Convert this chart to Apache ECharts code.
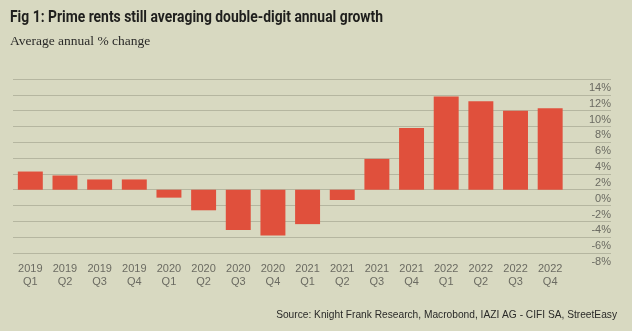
<!DOCTYPE html>
<html><head><meta charset="utf-8">
<script src="https://cdn.jsdelivr.net/npm/echarts@6/dist/echarts.min.js"></script>
<style>html,body{margin:0;padding:0;background:#d8d9c1}#c{width:632px;height:331px}</style>
</head><body><div id="c"></div>
<script>
const years = ['2019','2019','2019','2019','2020','2020','2020','2020','2021','2021','2021','2021','2022','2022','2022','2022'];
const quarters = ['Q1','Q2','Q3','Q4','Q1','Q2','Q3','Q4','Q1','Q2','Q3','Q4','Q1','Q2','Q3','Q4'];
const growth = [2.3, 1.8, 1.3, 1.3, -1.0, -2.6, -5.1, -5.8, -4.35, -1.3, 3.9, 7.8, 11.8, 11.2, 10.0, 10.3];
const yMin = -8, yMax = 14, yStep = 2;
const titleText = 'Fig 1: Prime rents still averaging double-digit annual growth';

const categories = years.map((y, i) => y + '\n' + quarters[i]);
const titleFont = 'bold 17px Roboto';
const mctx = document.createElement('canvas').getContext('2d');
mctx.font = titleFont;
const titleW = mctx.measureText(titleText).width;
const titleScale = 373 / titleW;

const chart = echarts.init(document.getElementById('c'), null, {renderer: 'canvas'});
const gTop = 79, gBottom = 331 - 253;
chart.setOption({
  backgroundColor: '#d8d9c1',
  animation: false,
  graphic: [
    {type: 'text', left: 10, top: 9, scaleX: titleScale,
     style: {text: titleText, font: titleFont, fill: '#1f1f1d'}}
  ],
  title: [
    {text: 'Average annual % change', left: 10, top: 34, padding: 0,
     textStyle: {fontFamily: 'Liberation Serif, DejaVu Serif, serif', fontWeight: 'normal', fontSize: 13.5, color: '#2a2a28'}},
    {text: 'Source: Knight Frank Research, Macrobond, IAZI AG - CIFI SA, StreetEasy', right: 15, top: 310, padding: 0,
     textStyle: {fontFamily: 'Liberation Sans, Arial, sans-serif', fontWeight: 'normal', fontSize: 10.2, color: '#2a2a28'}}
  ],
  grid: [
    {left: 13, right: 21, top: gTop, bottom: gBottom},
    {left: 13, right: 64.5, top: gTop, bottom: gBottom}
  ],
  xAxis: [
    {gridIndex: 0, type: 'category', data: categories, show: false},
    {gridIndex: 1, type: 'category', data: categories,
     axisLine: {show: false}, axisTick: {show: false},
     axisLabel: {interval: 0, margin: 9, color: '#6b6b62', fontSize: 11, lineHeight: 13,
       fontFamily: 'Liberation Sans, Arial, sans-serif'}}
  ],
  yAxis: [
    {gridIndex: 0, type: 'value', position: 'right', min: yMin, max: yMax, interval: yStep,
     axisLine: {show: false}, axisTick: {show: false},
     splitLine: {lineStyle: {color: '#b5b6a0', width: 1}},
     axisLabel: {inside: true, margin: 0, color: '#6b6b62', fontSize: 11, verticalAlign: 'top', lineHeight: 12,
       padding: [3, 0, 0, 0], showMinLabel: true, showMaxLabel: true, hideOverlap: false,
       fontFamily: 'Liberation Sans, Arial, sans-serif', formatter: v => v + '%'}},
    {gridIndex: 1, type: 'value', min: yMin, max: yMax, interval: yStep, show: false, splitLine: {show: false}}
  ],
  series: [{
    type: 'bar', xAxisIndex: 1, yAxisIndex: 1, data: growth, barCategoryGap: '28%',
    itemStyle: {color: '#e0503c'}
  }]
});
</script></body></html>
